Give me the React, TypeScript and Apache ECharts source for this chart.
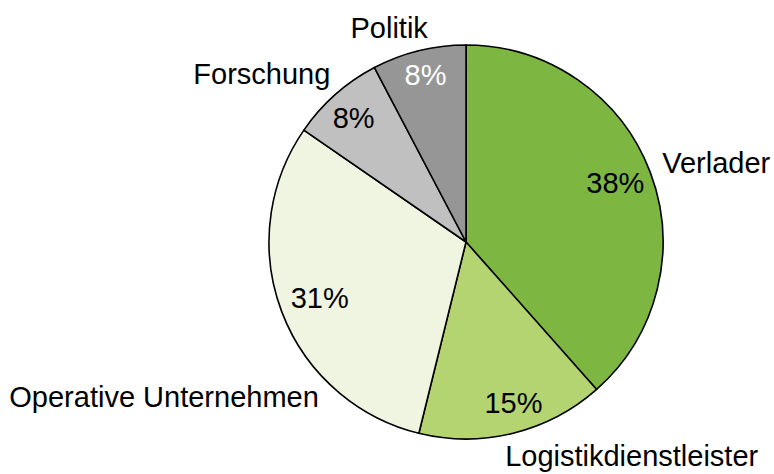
import React, { useEffect, useRef } from "react";
import * as echarts from "echarts";

const categories = ["Verlader", "Logistikdienstleister", "Operative Unternehmen", "Forschung", "Politik"];
const counts = [5, 2, 4, 1, 1];
const colors = ["#7DB641", "#B3D470", "#F0F5E2", "#C0C0C0", "#969696"];
const percentLabelColors = ["#000000", "#000000", "#000000", "#000000", "#FFFFFF"];
// fine offsets for labels (style only)
const nameOffsets: [number, number][] = [[7, -9], [-13, 23], [42, 85], [0, -21], [14, -23]];
const pctOffsets: [number, number][] = [[-5, 0], [8, 1], [8, -3], [-3, 0], [-1, -7]];

const FONT = "'Liberation Sans', Arial, sans-serif";
const CENTER: [number, number] = [466, 242];
const R = 197;
const FS = 29;

export default function App() {
  const ref = useRef<HTMLDivElement>(null);
  useEffect(() => {
    if (!ref.current) return;
    const chart = echarts.init(ref.current, undefined, { renderer: "svg" });
    const mainData = categories.map((name, i) => ({
      name,
      value: counts[i],
      itemStyle: { color: colors[i] },
    }));
    const pctData = categories.map((name, i) => ({
      name,
      value: counts[i],
      label: { color: percentLabelColors[i] },
    }));
    const nameData = categories.map((name, i) => ({ name, value: counts[i] }));
    chart.setOption({
      animation: false,
      series: [
        {
          type: "pie",
          center: CENTER,
          radius: R,
          startAngle: 90,
          clockwise: true,
          avoidLabelOverlap: false,
          label: { show: false },
          labelLine: { show: false },
          itemStyle: { borderColor: "#000000", borderWidth: 1.6 },
          emphasis: { disabled: true },
          data: mainData,
        },
        {
          type: "pie",
          center: CENTER,
          radius: [127, R],
          startAngle: 90,
          clockwise: true,
          silent: true,
          avoidLabelOverlap: false,
          itemStyle: { color: "transparent", borderWidth: 0 },
          label: {
            show: true,
            position: "inside",
            fontFamily: FONT,
            fontSize: FS,
            formatter: (p: any) => Math.round(p.percent) + "%",
          },
          labelLine: { show: false },
          labelLayout: (p: any) => ({ dx: pctOffsets[p.dataIndex][0], dy: pctOffsets[p.dataIndex][1] }),
          emphasis: { disabled: true },
          data: pctData,
        },
        {
          type: "pie",
          center: CENTER,
          radius: R,
          startAngle: 90,
          clockwise: true,
          silent: true,
          avoidLabelOverlap: false,
          itemStyle: { color: "transparent", borderWidth: 0 },
          label: {
            show: true,
            position: "outside",
            fontFamily: FONT,
            fontSize: FS,
            color: "#000000",
            formatter: "{b}",
          },
          labelLine: { show: false, length: 0, length2: 0 },
          labelLayout: (p: any) => ({ dx: nameOffsets[p.dataIndex][0], dy: nameOffsets[p.dataIndex][1] }),
          emphasis: { disabled: true },
          data: nameData,
        },
      ],
    });
    return () => chart.dispose();
  }, []);
  return (
    <div
      ref={ref}
      style={{ position: "fixed", left: 0, top: 0, width: 774, height: 474, background: "#ffffff" }}
    />
  );
}
